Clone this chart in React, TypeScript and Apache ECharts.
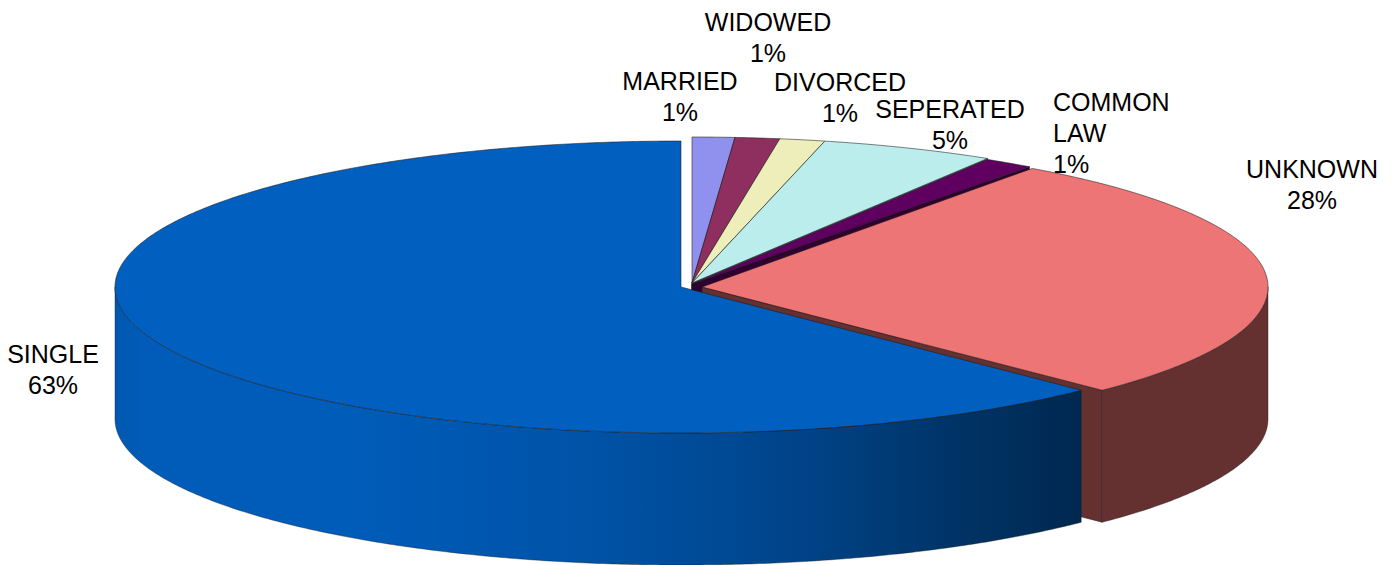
import React, { useEffect, useRef } from "react";
import * as echarts from "echarts";

const categories = ["MARRIED", "WIDOWED", "DIVORCED", "SEPERATED", "COMMON LAW", "UNKNOWN", "SINGLE"];
const values = [1.21, 1.27, 1.29, 4.97, 1.26, 27.5, 62.5];

const topColors = ["#9090ee", "#8f2f5f", "#eeeeba", "#bbeded", "#5f0060", "#ee7575", "#005fbf"];
const sideColors = ["#484877", "#481830", "#77775d", "#5e7777", "#300030", "#653030", "#003060"];
const centers = [
  [692, 283], [692, 283], [692, 283], [692, 283], [692, 284], [702, 287], [681, 287],
];
// small drawing adjustments [start, end] in degrees for the exploded slices
const nudges = [
  [0, 0], [0, 0], [0, 0], [0, 0], [0, 0.6], [-0.3, 0], [0, 0],
];
const labelLayout: [number, number, string][] = [
  [680, 65, "center"], [768, 6, "center"], [840, 66, "center"], [950, 93, "center"],
  [1053, 86, "left"], [1312, 153, "center"], [53, 338, "center"],
];

const RX = 566;
const RY = 146;
const DEPTH = 132;
const total = values.reduce((a, b) => a + b, 0);
const bounds: number[] = [0];
values.forEach((v, i) => bounds.push(bounds[i] + (v / total) * 360));

const pt = (c: number[], deg: number, dy = 0) => {
  const t = (deg * Math.PI) / 180;
  return [c[0] + RX * Math.sin(t), c[1] - RY * Math.cos(t) + dy];
};
const arcPts = (c: number[], a: number, b: number, dy = 0) => {
  const n = Math.max(2, Math.ceil(Math.abs(b - a) * 2));
  const out: number[][] = [];
  for (let k = 0; k <= n; k++) out.push(pt(c, a + ((b - a) * k) / n, dy));
  return out;
};
const toPath = (pts: number[][]) =>
  pts.map((p, k) => (k ? "L" : "M") + p[0].toFixed(2) + " " + p[1].toFixed(2)).join(" ") + " Z";

const blueWall = new echarts.graphic.LinearGradient(1, 0, 0, 0, [
  { offset: 0, color: "#002850" },
  { offset: 0.12, color: "#003364" },
  { offset: 0.3, color: "#00448a" },
  { offset: 0.5, color: "#0052a6" },
  { offset: 0.75, color: "#005cb9" },
  { offset: 0.97, color: "#005cb8" },
  { offset: 1, color: "#0058b0" },
]);

const edge = { stroke: "#1c1c1c", lineWidth: 0.8, strokeOpacity: 0.7 };

function renderItem(params: any) {
  const i = params.dataIndex;
  const c = centers[i];
  const a = bounds[i] + nudges[i][0];
  const b = bounds[i + 1] + nudges[i][1];
  const children: any[] = [];
  const isSingle = i === categories.length - 1;

  // visible radial cut face at the clockwise end of the slice
  if (b > 0 && b < 180) {
    const p = pt(c, b);
    const face = [c, p, [p[0], p[1] + DEPTH], [c[0], c[1] + DEPTH]];
    children.push({ type: "path", shape: { pathData: toPath(face) }, style: { fill: sideColors[i], ...edge } });
  }
  // visible outer wall (front half of the ellipse)
  const wa = Math.max(a, 90);
  const wb = Math.min(b, 270);
  if (wb > wa) {
    const wall = [...arcPts(c, wa, wb), ...arcPts(c, wb, wa, DEPTH)];
    children.push({
      type: "path",
      shape: { pathData: toPath(wall) },
      style: { fill: isSingle ? blueWall : sideColors[i], ...edge, strokeOpacity: 0.5 },
    });
  }
  // top face
  const top = [c, ...arcPts(c, a, b)];
  children.push({ type: "path", shape: { pathData: toPath(top) }, style: { fill: topColors[i], ...edge } });

  // label
  const lay = labelLayout[i];
  children.push({
    type: "text",
    x: lay[0],
    y: lay[1],
    style: {
      text: categories[i].replace(" ", "\n") + "\n" + Math.round((values[i] / total) * 100) + "%",
      fill: "#000",
      font: '25px "Liberation Sans", Arial, sans-serif',
      align: lay[2],
      verticalAlign: "top",
      lineHeight: 31,
    },
  });
  return { type: "group", children };
}

export default function App() {
  const ref = useRef<HTMLDivElement>(null);
  useEffect(() => {
    const chart = echarts.init(ref.current!, null, { renderer: "svg" });
    chart.setOption({
      animation: false,
      backgroundColor: "#ffffff",
      series: [
        {
          type: "custom",
          coordinateSystem: "none",
          silent: true,
          clip: false,
          renderItem,
          data: categories.map((name, k) => ({ name, value: values[k] })),
        },
      ],
    });
    return () => chart.dispose();
  }, []);
  return <div ref={ref} style={{ position: "absolute", left: 0, top: 0, width: 1395, height: 565 }} />;
}
